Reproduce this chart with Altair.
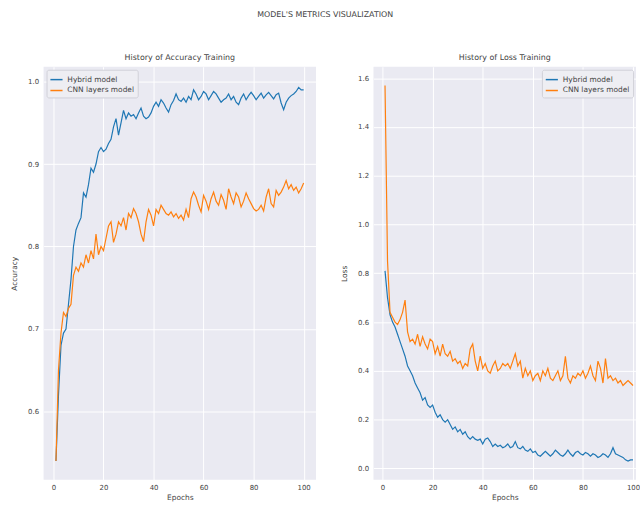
import altair as alt
import pandas as pd

epochs = list(range(1, 101))

acc_hybrid = [0.54, 0.62, 0.68, 0.695, 0.70, 0.73, 0.76, 0.80, 0.82, 0.828,
              0.835, 0.865, 0.86, 0.875, 0.895, 0.89, 0.90, 0.915, 0.92, 0.915,
              0.918, 0.925, 0.93, 0.945, 0.955, 0.935, 0.95, 0.965, 0.955, 0.962,
              0.958, 0.96, 0.955, 0.962, 0.968, 0.958, 0.955, 0.957, 0.962, 0.97,
              0.975, 0.97, 0.978, 0.974, 0.968, 0.963, 0.972, 0.977, 0.985, 0.978,
              0.976, 0.98, 0.975, 0.982, 0.978, 0.99, 0.985, 0.978, 0.982, 0.988,
              0.985, 0.978, 0.983, 0.988, 0.985, 0.98, 0.975, 0.978, 0.98, 0.985,
              0.978, 0.982, 0.975, 0.972, 0.98, 0.985, 0.978, 0.983, 0.987, 0.983,
              0.978, 0.982, 0.986, 0.98, 0.984, 0.987, 0.983, 0.979, 0.984, 0.986,
              0.974, 0.966, 0.975, 0.98, 0.983, 0.985, 0.988, 0.993, 0.99, 0.99]

acc_cnn = [0.54, 0.65, 0.695, 0.72, 0.715, 0.725, 0.73, 0.765, 0.775, 0.77,
           0.78, 0.775, 0.79, 0.78, 0.795, 0.785, 0.815, 0.79, 0.80, 0.795,
           0.81, 0.825, 0.83, 0.805, 0.815, 0.83, 0.825, 0.835, 0.82, 0.84,
           0.835, 0.846, 0.84, 0.83, 0.815, 0.806, 0.83, 0.845, 0.838, 0.825,
           0.845, 0.84, 0.85, 0.845, 0.84, 0.838, 0.842, 0.836, 0.84, 0.834,
           0.838, 0.832, 0.845, 0.835, 0.858, 0.866, 0.86, 0.85, 0.842, 0.862,
           0.855, 0.845, 0.858, 0.866, 0.855, 0.85, 0.863, 0.856, 0.845, 0.87,
           0.86, 0.852, 0.865, 0.86, 0.848, 0.855, 0.865, 0.858, 0.852, 0.846,
           0.843, 0.845, 0.85, 0.843, 0.86, 0.87, 0.852, 0.848, 0.868, 0.862,
           0.866, 0.872, 0.88, 0.87, 0.875, 0.868, 0.872, 0.865, 0.87, 0.877]

loss_hybrid = [0.81, 0.70, 0.63, 0.60, 0.58, 0.55, 0.52, 0.49, 0.46, 0.42,
               0.40, 0.38, 0.35, 0.33, 0.31, 0.28, 0.29, 0.26, 0.25, 0.26,
               0.23, 0.21, 0.22, 0.20, 0.19, 0.20, 0.18, 0.16, 0.17, 0.15,
               0.16, 0.14, 0.15, 0.13, 0.12, 0.13, 0.12, 0.115, 0.12, 0.10,
               0.12, 0.125, 0.11, 0.09, 0.10, 0.09, 0.095, 0.085, 0.09, 0.10,
               0.085, 0.09, 0.11, 0.085, 0.08, 0.09, 0.075, 0.07, 0.08, 0.065,
               0.07, 0.055, 0.05, 0.06, 0.07, 0.06, 0.05, 0.06, 0.075, 0.065,
               0.055, 0.05, 0.06, 0.075, 0.06, 0.05, 0.065, 0.07, 0.06, 0.055,
               0.065, 0.06, 0.05, 0.06, 0.055, 0.045, 0.05, 0.06, 0.055, 0.045,
               0.06, 0.085, 0.06, 0.055, 0.05, 0.045, 0.035, 0.03, 0.035, 0.035]

loss_cnn = [1.57, 0.85, 0.64, 0.62, 0.60, 0.59, 0.61, 0.64, 0.69, 0.56,
            0.52, 0.53, 0.51, 0.55, 0.50, 0.54, 0.51, 0.49, 0.53, 0.52,
            0.47, 0.50, 0.46, 0.51, 0.47, 0.46, 0.48, 0.44, 0.45, 0.43,
            0.44, 0.41, 0.43, 0.42, 0.49, 0.51, 0.44, 0.40, 0.46, 0.41,
            0.43, 0.40, 0.39, 0.42, 0.44, 0.40, 0.41, 0.43, 0.42, 0.43,
            0.41, 0.44, 0.47, 0.42, 0.44, 0.37, 0.41, 0.38, 0.40, 0.36,
            0.38, 0.39, 0.36, 0.40, 0.38, 0.41, 0.37, 0.36, 0.38, 0.40,
            0.36, 0.38, 0.46, 0.37, 0.35, 0.38, 0.37, 0.39, 0.38, 0.40,
            0.37, 0.39, 0.42, 0.38, 0.36, 0.44, 0.41, 0.35, 0.45, 0.37,
            0.38, 0.36, 0.37, 0.35, 0.36, 0.34, 0.35, 0.36, 0.35, 0.34]

series_names = ["Hybrid model", "CNN layers model"]
series_colors = ["#1f77b4", "#ff7f0e"]
x_ticks = [0, 20, 40, 60, 80, 100]
acc_ticks = [0.6, 0.7, 0.8, 0.9, 1.0]
loss_ticks = [0.0, 0.2, 0.4, 0.6, 0.8, 1.0, 1.2, 1.4, 1.6]

acc_df = pd.DataFrame({
    "Epochs": epochs * 2,
    "value": acc_hybrid + acc_cnn,
    "model": [series_names[0]] * 100 + [series_names[1]] * 100,
})
loss_df = pd.DataFrame({
    "Epochs": epochs * 2,
    "value": loss_hybrid + loss_cnn,
    "model": [series_names[0]] * 100 + [series_names[1]] * 100,
})

FONT = "DejaVu Sans"
TXT = "#444444"


def panel(df, title, ytitle, ydomain, yticks, xdomain, legend_orient, width):
    return alt.Chart(df, title=alt.TitleParams(
        title, fontSize=8, fontWeight="normal", font=FONT, color=TXT, offset=5)
    ).mark_line(strokeWidth=1.2, clip=True).encode(
        x=alt.X("Epochs:Q",
                scale=alt.Scale(domain=xdomain, nice=False, zero=False),
                axis=alt.Axis(values=x_ticks, format="d", title="Epochs",
                              titlePadding=3)),
        y=alt.Y("value:Q",
                scale=alt.Scale(domain=ydomain, nice=False, zero=False),
                axis=alt.Axis(values=yticks, format=".1f", title=ytitle,
                              labelPadding=5, titlePadding=9)),
        color=alt.Color("model:N",
                        scale=alt.Scale(domain=series_names, range=series_colors),
                        legend=alt.Legend(orient=legend_orient, title=None,
                                          symbolType="stroke", symbolStrokeWidth=1.5,
                                          symbolSize=150, labelFontSize=7.5,
                                          labelFont=FONT, labelColor=TXT,
                                          fillColor="#EEEEF3", strokeColor="#D0D0D8",
                                          padding=3, offset=3, rowPadding=0,
                                          cornerRadius=2)),
        detail="model:N",
    ).properties(width=width, height=417)


left = panel(acc_df, "History of Accuracy Training", "Accuracy",
             [0.517, 1.018], acc_ticks, [-3.95, 104.95], "top-left", 275)
right = panel(loss_df, "History of Loss Training", "Loss",
              [-0.047, 1.647], loss_ticks, [-3.6, 101.2], "top-right", 265)

chart = alt.hconcat(left, right, spacing=24).resolve_scale(
    color="independent"
).resolve_legend(color="independent").properties(
    title=alt.TitleParams("MODEL'S METRICS VISUALIZATION", fontSize=8,
                          fontWeight="normal", font=FONT, color=TXT,
                          anchor="middle", offset=35),
    padding={"left": 10, "top": 9, "right": 0, "bottom": 0},
    background="white",
).configure_view(
    fill="#EAEAF2", strokeWidth=0
).configure_axis(
    domain=False, ticks=False, gridColor="white", gridWidth=1,
    labelFont=FONT, labelFontSize=7, labelColor=TXT, labelPadding=4,
    titleFont=FONT, titleFontSize=7.5, titleFontWeight="normal",
    titleColor=TXT, titlePadding=5,
)

chart.save("out.html", embed_options={"renderer": "svg", "actions": False})
